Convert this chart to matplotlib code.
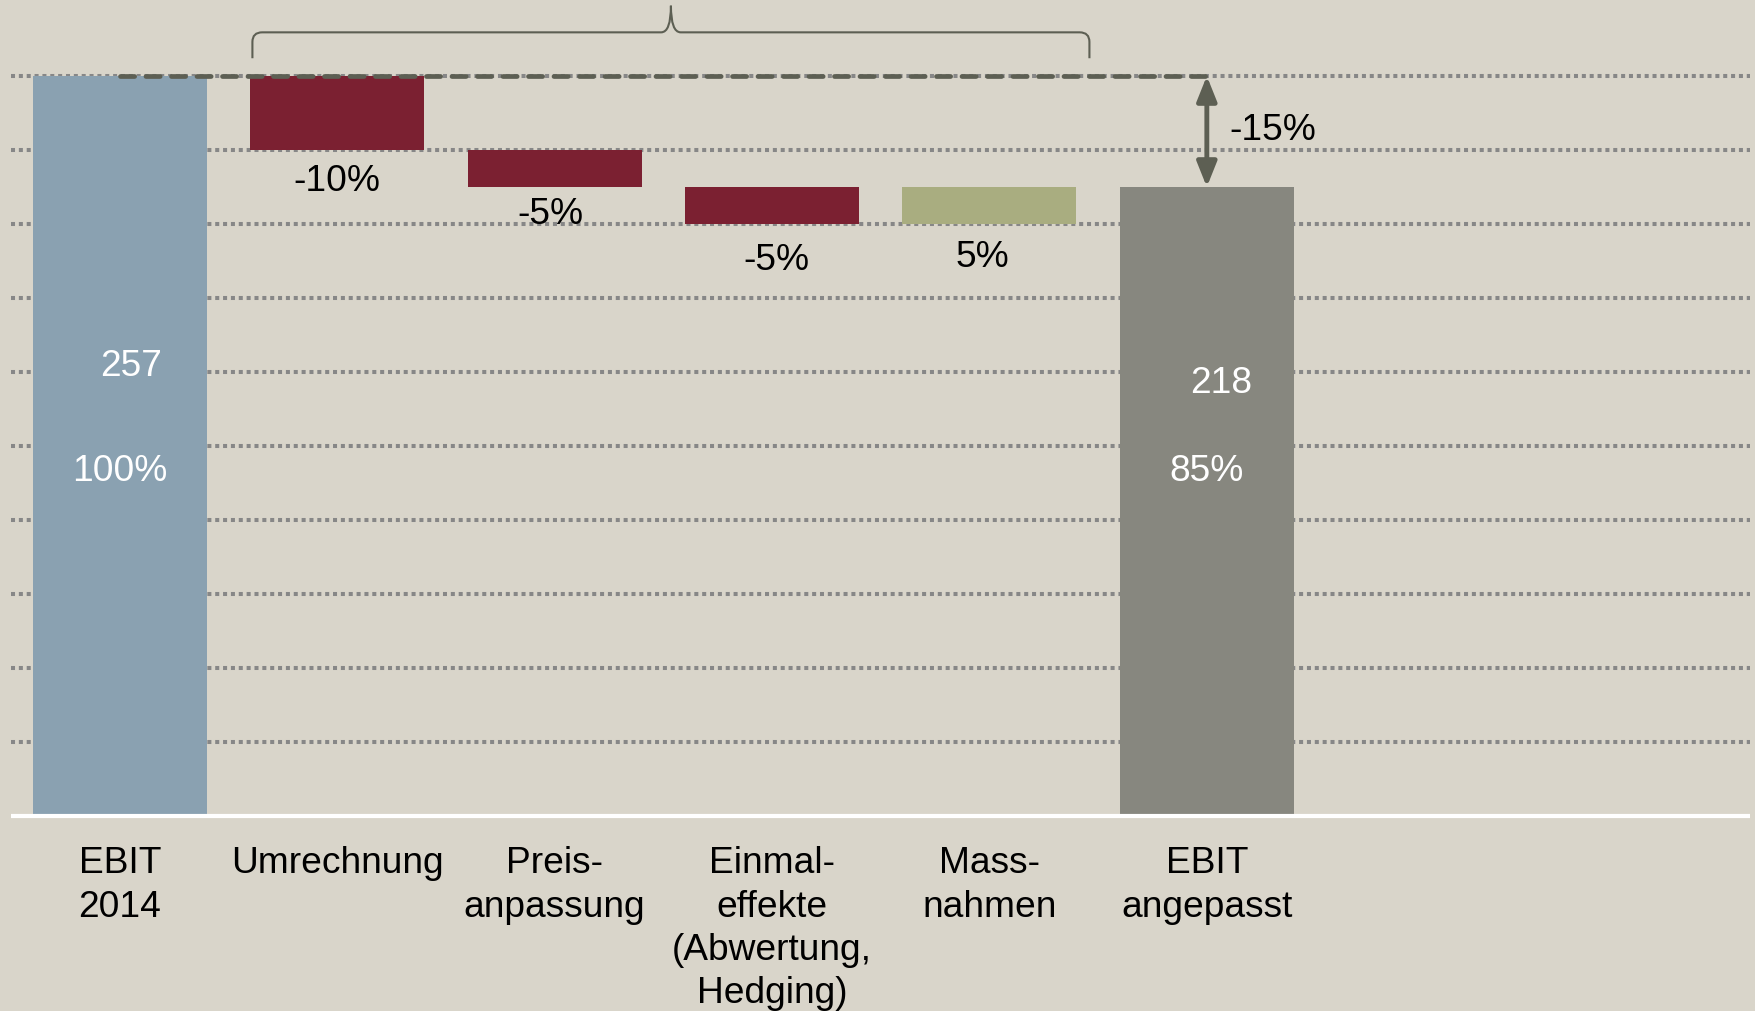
import matplotlib.pyplot as plt
from matplotlib.path import Path
from matplotlib.patches import PathPatch, FancyArrowPatch
import numpy as np

categories = ["EBIT\n2014", "Umrechnung", "Preis-\nanpassung",
              "Einmal-\neffekte\n(Abwertung,\nHedging)", "Mass-\nnahmen",
              "EBIT\nangepasst"]
start_pct = 100
deltas = [-10, -5, -5, 5]
delta_labels = ["-10%", "-5%", "-5%", "5%"]
end_pct = 85
start_abs = 257
end_abs = 218
total_label = "-15%"

BG = "#d9d5ca"
BLUE = "#8aa1b1"
RED = "#7b2031"
GREEN = "#a9ad80"
GREY = "#87877f"
DARK = "#5d5f53"
GRID = "#878787"

plt.rcParams['font.family'] = ['Liberation Sans', 'DejaVu Sans']
FS = 26.7

fig = plt.figure(figsize=(17.56, 10.11), dpi=100, facecolor=BG)
ax = fig.add_axes([0, 0, 1, 1])
ax.set_facecolor(BG)
ax.axis('off')
ax.set_xlim(-0.551, 7.526)
ax.set_ylim(-26.35, 110.27)

x = np.arange(len(categories))
width = 0.8

# dotted gridlines
ax.hlines(np.arange(10, 101, 10), -0.5, 7.5, colors=GRID, linewidth=2.9,
          linestyles=(0, (1, 0.95)), zorder=1)

# waterfall bars
levels = start_pct + np.cumsum([0] + deltas)
ax.bar(x[0], start_pct, width, color=BLUE, zorder=2)
# small nudges so labels sit like in the original slide
lab_dx = [0, -0.02, 0.02, -0.03]
lab_dy = [-4.2, -3.75, -4.95, -4.5]
for i, d in enumerate(deltas):
    lo = min(levels[i], levels[i + 1])
    col = GREEN if d > 0 else RED
    ax.bar(x[i + 1], abs(d), width, bottom=lo, color=col, zorder=2)
    ax.text(x[i + 1] + lab_dx[i], lo + lab_dy[i], delta_labels[i],
            ha='center', va='center', fontsize=FS, color='black')
ax.bar(x[-1], end_pct, width, color=GREY, zorder=2)

# white baseline
ax.hlines(0, -0.5, 7.5, colors='white', linewidth=3, zorder=3)

# values inside the totals
ax.text(x[0] + 0.05, 60.8, str(start_abs), ha='center', va='center', fontsize=FS, color='white')
ax.text(x[0], 46.5, f"{start_pct}%", ha='center', va='center', fontsize=FS, color='white')
ax.text(x[-1] + 0.065, 58.5, str(end_abs), ha='center', va='center', fontsize=FS, color='white')
ax.text(x[-1], 46.5, f"{end_pct}%", ha='center', va='center', fontsize=FS, color='white')

# dashed reference line at start level
ax.plot([x[0], x[-1]], [start_pct, start_pct], color=DARK, linewidth=3.4,
        linestyle=(0, (3.0, 2.4)), dash_capstyle='round', zorder=4)

# double arrow showing total change
arr = FancyArrowPatch((x[-1], start_pct), (x[-1], end_pct),
                      arrowstyle='<|-|>,head_length=1.0,head_width=0.4',
                      mutation_scale=15, color=DARK, linewidth=3.5,
                      shrinkA=0, shrinkB=0, zorder=5)
ax.add_patch(arr)
ax.text(x[-1] + 0.106, 92.65, total_label, ha='left', va='center', fontsize=FS, color='black')

# curly brace above the change bars
def brace(ax, x0, x1, yb, yh, ytip):
    xm = (x0 + x1) / 2
    dx, dy = 0.045, 1.3
    verts = [(x0, yb), (x0, yh - dy), (x0, yh), (x0 + dx, yh),
             (xm - dx, yh), (xm, yh), (xm, ytip),
             (xm, yh), (xm + dx, yh),
             (x1 - dx, yh), (x1, yh), (x1, yh - dy), (x1, yb)]
    codes = [Path.MOVETO, Path.LINETO, Path.CURVE3, Path.CURVE3,
             Path.LINETO, Path.CURVE3, Path.CURVE3,
             Path.CURVE3, Path.CURVE3,
             Path.LINETO, Path.CURVE3, Path.CURVE3, Path.LINETO]
    ax.add_patch(PathPatch(Path(verts, codes), facecolor='none',
                           edgecolor=DARK, linewidth=1.5, zorder=4))

brace(ax, 0.61, 4.46, 102.4, 105.9, 109.5)

# category labels
for xi, lab in zip(x, categories):
    ax.text(xi, -4.1, lab, ha='center', va='top', fontsize=FS,
            linespacing=1.31, color='black')

fig.savefig("out.png", dpi=100, facecolor=BG)
